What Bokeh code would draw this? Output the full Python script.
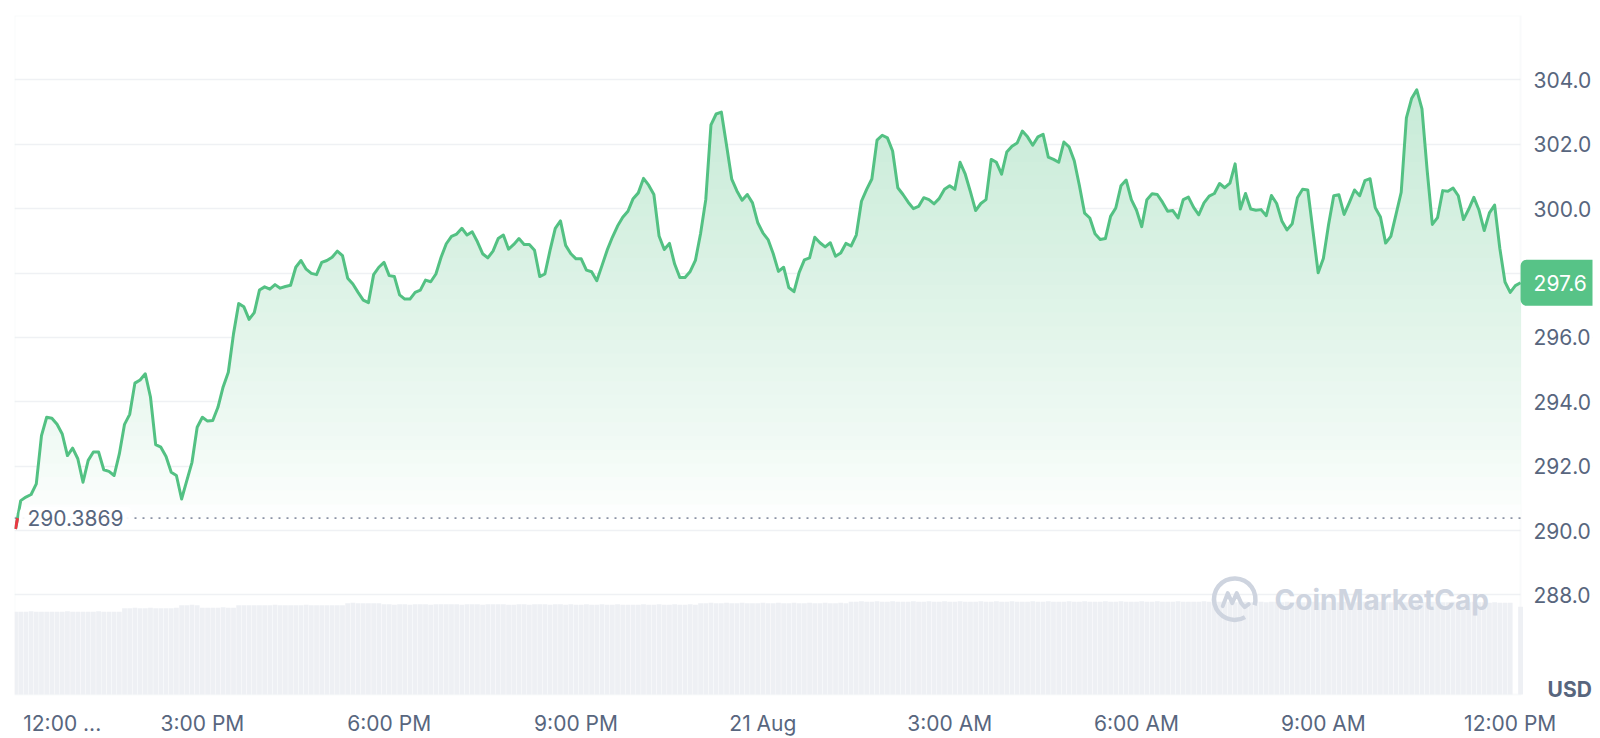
import numpy as np
from bokeh.plotting import figure
from bokeh.models import Range1d, FixedTicker, Label, NumeralTickFormatter, BoxAnnotation
from bokeh.embed import file_html
from bokeh.resources import INLINE

# ---------------- data (5-minute samples from 12:00 PM, 20 Aug) ----------------
price = [
    290.05, 290.93, 291.04, 291.12, 291.45, 292.95, 293.52, 293.49, 293.30, 293.00, 292.33, 292.56,
    292.23, 291.50, 292.18, 292.44, 292.44, 291.89, 291.84, 291.71, 292.38, 293.30, 293.61, 294.58,
    294.68, 294.87, 294.15, 292.67, 292.59, 292.30, 291.81, 291.71, 290.98, 291.55, 292.12, 293.21,
    293.52, 293.40, 293.42, 293.83, 294.46, 294.92, 296.11, 297.05, 296.95, 296.56, 296.77, 297.47,
    297.57, 297.50, 297.64, 297.53, 297.58, 297.62, 298.18, 298.39, 298.12, 297.99, 297.95, 298.33,
    298.39, 298.49, 298.68, 298.54, 297.84, 297.66, 297.40, 297.16, 297.08, 297.95, 298.18, 298.33,
    297.92, 297.89, 297.32, 297.19, 297.19, 297.40, 297.47, 297.78, 297.73, 297.97, 298.49, 298.91,
    299.14, 299.21, 299.39, 299.18, 299.28, 298.97, 298.60, 298.47, 298.68, 299.07, 299.18, 298.74,
    298.89, 299.07, 298.89, 298.89, 298.71, 297.89, 297.97, 298.71, 299.39, 299.62, 298.86, 298.60,
    298.44, 298.44, 298.09, 298.04, 297.76, 298.23, 298.71, 299.11, 299.46, 299.73, 299.92, 300.31,
    300.49, 300.94, 300.73, 300.44, 299.15, 298.73, 298.92, 298.28, 297.86, 297.86, 298.05, 298.39,
    299.23, 300.28, 302.60, 302.94, 303.00, 301.97, 300.92, 300.55, 300.26, 300.44, 300.18, 299.57,
    299.25, 299.04, 298.60, 298.05, 298.18, 297.55, 297.42, 298.02, 298.41, 298.47, 299.11, 298.94,
    298.81, 298.94, 298.52, 298.62, 298.92, 298.84, 299.18, 300.23, 300.60, 300.92, 302.13, 302.28,
    302.20, 301.79, 300.65, 300.44, 300.20, 300.00, 300.07, 300.34, 300.28, 300.15, 300.32, 300.60,
    300.71, 300.60, 301.44, 301.07, 300.52, 299.94, 300.16, 300.28, 301.53, 301.44, 301.07, 301.76,
    301.94, 302.04, 302.41, 302.23, 301.97, 302.23, 302.31, 301.60, 301.53, 301.44, 302.07, 301.92,
    301.49, 300.71, 299.86, 299.71, 299.22, 299.04, 299.07, 299.76, 300.02, 300.71, 300.89, 300.28,
    299.95, 299.44, 300.28, 300.46, 300.44, 300.20, 299.92, 299.94, 299.71, 300.28, 300.36, 300.04,
    299.81, 300.18, 300.39, 300.47, 300.78, 300.65, 300.79, 301.39, 299.99, 300.47, 299.99, 299.95,
    299.97, 299.78, 300.41, 300.16, 299.62, 299.34, 299.53, 300.34, 300.60, 300.58, 299.30, 298.01,
    298.45, 299.50, 300.40, 300.43, 299.82, 300.19, 300.58, 300.40, 300.87, 300.93, 300.03, 299.74,
    298.93, 299.14, 299.82, 300.51, 302.82, 303.42, 303.69, 303.10, 301.19, 299.51, 299.72, 300.56,
    300.54, 300.64, 300.40, 299.66, 299.98, 300.35, 299.95, 299.32, 299.87, 300.11, 298.77, 297.72,
    297.40, 297.61, 297.70,
]

volume = [
    83, 83, 83, 83.5, 83, 83, 83, 83, 83, 83, 83.5, 83,
    83, 83, 83, 83, 83.5, 83, 83, 83, 83, 86.5, 86.5, 87,
    86.5, 86.5, 87, 86.5, 86.5, 86.5, 86.5, 87, 89.5, 89.5, 90, 89.5,
    87, 87, 87, 87, 87.5, 87, 87, 89.5, 89.5, 89.5, 89.5, 89.5,
    89.5, 89.5, 90, 89.5, 89.5, 89.5, 89.5, 89.5, 90, 89.5, 89.5, 89.5,
    89.5, 89.5, 89.5, 89.5, 91.5, 92, 91.5, 91.5, 91.5, 91.5, 91.5, 90.5,
    90.5, 90, 90.5, 90.5, 90, 90.5, 90.5, 90.5, 90, 90.5, 90.5, 90.5,
    90.5, 90.5, 90, 90.5, 90.5, 90.5, 90, 90.5, 90.5, 90.5, 90.5, 90,
    90, 90.5, 90.5, 90, 90.5, 90.5, 90.5, 90, 90.5, 90.5, 90, 90.5,
    90, 90, 90.5, 90, 90, 90.5, 90, 90, 90.5, 90, 90, 90,
    90, 90.5, 90, 90, 90.5, 90, 90, 90.5, 90, 90, 90.5, 90,
    91.5, 91.5, 92, 91.5, 91.5, 92, 91.5, 91.5, 92, 91.5, 91.5, 91.5,
    92, 91.5, 91.5, 92, 91.5, 91.5, 92, 91.5, 91.5, 92, 91.5, 91.5,
    92, 91.5, 91.5, 92, 91.5, 93, 93, 93.5, 93, 93, 93.5, 93,
    93, 93.5, 93, 93, 93, 93.5, 93, 93, 93.5, 93, 93, 93.5,
    93, 93, 93.5, 93, 93, 93, 93.5, 93, 93, 93.5, 93, 93,
    93.5, 93, 93, 93, 93.5, 93, 93, 93.5, 93, 93, 93, 93.5,
    93, 93, 93.5, 93, 93, 93, 93.5, 93, 93, 93.5, 93, 93,
    93, 93.5, 93, 93, 93.5, 93, 93, 93, 93.5, 93, 93, 93,
    93, 93.5, 93, 93, 93, 93.5, 93, 92.5, 93, 93, 92.5, 93,
    93, 92.5, 93, 93, 92.5, 93, 92.5, 93, 92.5, 92.5, 93, 92.5,
    92.5, 93, 92.5, 92.5, 93, 92.5, 92.5, 92.5, 93, 92.5, 92.5, 93,
    92.5, 92.5, 93, 92.5, 92.5, 92.5, 93, 92.5, 92.5, 93, 92.5, 92.5,
    92.5, 93, 92.5, 92.5, 92.5, 93, 92.5, 92.5, 92, 92.5, 92, 92,
    92, 0, 88,
]

tick_minutes = [45, 180, 360, 540, 720, 900, 1080, 1260, 1440]
tick_labels = ["12:00 ...", "3:00 PM", "6:00 PM", "9:00 PM", "21 Aug", "3:00 AM",
               "6:00 AM", "9:00 AM", "12:00 PM"]
y_ticks = [288, 290, 292, 294, 296, 298, 300, 302, 304]
baseline = 290.3869
baseline_label = "290.3869"
last_label = "297.6"
currency = "USD"
watermark = "CoinMarketCap"

minutes = np.arange(len(price)) * 5
price_arr = np.array(price)
t_end = minutes[-1]

# ---------------- style ----------------
FONT = "Inter"
LABEL_COLOR = "#58667E"
GREEN = (83, 193, 131)
LINE_COLOR = "#53C183"
BOX_COLOR = "#57C387"
RED = "#EA3943"
GRID = "#EFF1F4"
BORDER = "#ECEEF1"
WM_COLOR = "#CED4DF"

Y0, Y1 = 284.69, 306.0
X0, X1 = -1, 1519.3

p = figure(width=1600, height=738, x_range=Range1d(X0, X1), y_range=Range1d(Y0, Y1),
           y_axis_location="right", toolbar_location=None, output_backend="svg",
           min_border_left=14, min_border_top=15, min_border_bottom=36, min_border_right=8)
p.background_fill_color = "white"
p.border_fill_color = "white"
p.outline_line_color = None
p.extra_y_ranges = {"vol": Range1d(-7, 680)}

# axes
yax = p.yaxis[0]
yax.ticker = FixedTicker(ticks=y_ticks)
yax.formatter = NumeralTickFormatter(format="0.0")
yax.axis_line_color = None
yax.major_tick_line_color = None
yax.minor_tick_line_color = None
yax.major_tick_out = 0
yax.major_tick_in = 0
yax.major_label_standoff = -59
yax.major_label_text_font = FONT
yax.major_label_text_font_size = "21px"
yax.major_label_text_color = LABEL_COLOR

xax = p.xaxis[0]
xax.ticker = FixedTicker(ticks=tick_minutes)
xax.major_label_overrides = {m: s for m, s in zip(tick_minutes, tick_labels)}
xax.axis_line_color = None
xax.major_tick_line_color = None
xax.minor_tick_line_color = None
xax.major_tick_out = 0
xax.major_tick_in = 0
xax.major_label_standoff = 9
xax.major_label_text_font = FONT
xax.major_label_text_font_size = "21px"
xax.major_label_text_color = LABEL_COLOR

p.xgrid.visible = False
p.ygrid.ticker = FixedTicker(ticks=y_ticks)
p.ygrid.grid_line_color = GRID
p.ygrid.grid_line_width = 1.5

# white strip right of the data (price-scale area) and chart border
p.add_layout(BoxAnnotation(left=t_end, fill_color="white", fill_alpha=1.0,
                           line_alpha=0, level="underlay"))
p.add_layout(BoxAnnotation(right=t_end, bottom=0, bottom_units="data", fill_alpha=0,
                           line_color=BORDER, line_width=2, level="underlay",
                           y_range_name="vol"))

# volume bars
p.vbar(x=minutes, top=volume, bottom=0, width=4.6, y_range_name="vol",
       fill_color="#EEF0F4", line_color=None)

# gradient area between baseline and price (stacked layers, lighter drawn last)
N = 32
top_val = 304.0
for k in range(N, 0, -1):
    hi = baseline + (top_val - baseline) * k / N
    if k == N:
        hi = 400
    frac = (k - 0.5) / N
    a = 0.33 * frac ** 0.8
    col = "#%02x%02x%02x" % tuple(int(round(255 - a * (255 - c))) for c in GREEN)
    p.varea(x=minutes, y1=baseline, y2=np.clip(price_arr, baseline, hi),
            fill_color=col, fill_alpha=1.0)

# baseline dotted line (data part only)
p.line([X0, t_end], [baseline, baseline], line_color="#8A93A5",
       line_dash="2 6", line_width=1.6)

# price line
p.line(minutes, price_arr, line_color=LINE_COLOR, line_width=3, line_join="round")

# segment below the baseline in red
frac0 = (baseline - price[0]) / (price[1] - price[0])
p.line([minutes[0], minutes[0] + frac0 * (minutes[1] - minutes[0])], [price[0], baseline],
       line_color=RED, line_width=3)

# baseline value label
p.add_layout(Label(x=X0, y=baseline, text=baseline_label, x_offset=5, text_align="left",
                   text_baseline="middle", text_font=FONT, text_font_size="21px",
                   text_color=LABEL_COLOR, background_fill_color="white",
                   background_fill_alpha=0.92, border_radius=6,
                   padding=dict(left=8, right=9, top=3, bottom=3)))

# watermark
wm_x, wm_y = 1174.6, 287.87
p.annular_wedge(x=[wm_x], y=[wm_y], inner_radius=18.5, outer_radius=23,
                inner_radius_units="screen", outer_radius_units="screen",
                start_angle=-0.30, end_angle=-1.05, direction="anticlock",
                fill_color=WM_COLOR, line_color=None)
mx = [-12, -7, -2.5, 2, 6.5, 10, 14]
my = [-7, 6, -4, 6, -4, -8, -5]
p.line([wm_x + dx / 1.0386 for dx in mx], [wm_y + dy / 32.24 for dy in my],
       line_color=WM_COLOR, line_width=4, line_join="round", line_cap="round")
p.add_layout(Label(x=1213, y=287.85, text=watermark, text_font=FONT, text_font_style="bold",
                   text_font_size="28px", text_color=WM_COLOR, text_baseline="middle",
                   text_align="left"))

p.add_layout(Label(x=t_end, y=price[-1], text=last_label, x_offset=0, text_align="left",
                   text_baseline="middle", text_font=FONT, text_font_size="21px",
                   text_color="white", background_fill_color=BOX_COLOR,
                   border_radius=6, padding=dict(left=13, right=14, top=15, bottom=15)))

p.add_layout(Label(x=t_end, y=Y0, text=currency, x_offset=27, y_offset=0,
                   text_align="left", text_baseline="bottom", text_font=FONT,
                   text_font_style="bold", text_font_size="21px", text_color=LABEL_COLOR))

open("out.html", "w").write(file_html(p, INLINE))
